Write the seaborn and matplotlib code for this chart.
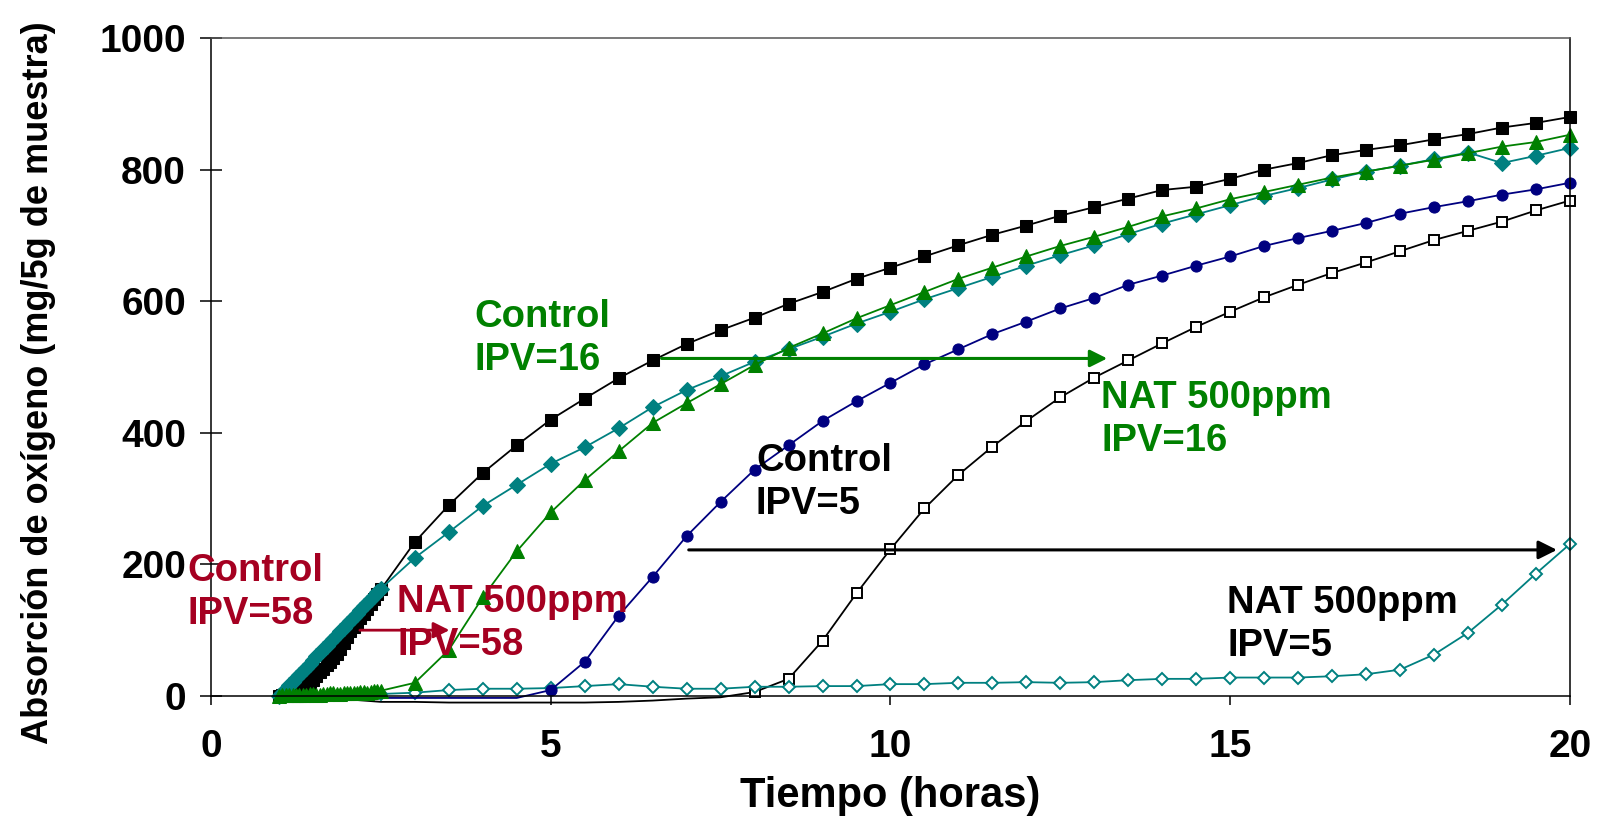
import numpy as np
import pandas as pd
import matplotlib
matplotlib.use('Agg')
import matplotlib.pyplot as plt
import seaborn as sns

# time grids (hours): dense readings at start, then every half hour
t_dense = np.round(np.arange(1.0, 2.51, 0.05), 2)
t_half = np.arange(3.0, 20.01, 0.5)
t_fast = np.concatenate([t_dense, t_half])
t_blue = np.arange(2.0, 20.01, 0.5)
t_open_sq = np.arange(2.0, 20.01, 0.5)
t_open_dm = np.arange(2.5, 20.01, 0.5)

# oxygen uptake (mg/5g sample)
black_sq = [0, 1, 2, 3, 5, 7, 9, 12, 16, 20, 25, 30, 36, 41, 47, 52, 57, 64, 72,
            81, 90, 98, 105, 111, 118, 125, 132, 140, 147, 155, 162,
            234, 290, 339, 381, 420, 452, 483, 510, 535, 556, 575, 596, 614, 634,
            651, 668, 685, 701, 715, 730, 743, 756, 769, 774, 786, 800, 810, 822,
            830, 837, 846, 854, 864, 871, 880]
teal_dm = [0, 5, 10, 16, 21, 27, 32, 38, 43, 49, 54, 60, 65, 71, 76, 82, 87, 92,
           98, 103, 109, 114, 120, 125, 131, 136, 142, 147, 152, 158, 163,
           210, 249, 289, 321, 353, 378, 407, 439, 465, 486, 508, 527, 546, 566,
           584, 603, 620, 637, 654, 670, 685, 702, 718, 732, 746, 760, 772, 785,
           797, 806, 816, 826, 810, 821, 833]
green_tri = [0, 1, 1, 2, 2, 1, 1, 2, 2, 3, 3, 2, 2, 3, 3, 4, 4, 3, 3, 4, 5, 5,
             4, 5, 6, 6, 5, 6, 7, 7, 8,
             20, 70, 150, 220, 279, 328, 372, 415, 445, 474, 503, 529, 551, 574,
             594, 614, 634, 651, 668, 684, 698, 713, 729, 741, 755, 766, 777, 788,
             797, 806, 815, 825, 835, 842, 853]
blue_circ = [-3, -3, -3, -3, -3, -3, 9, 52, 122, 181, 243, 295, 344, 381, 418,
             448, 476, 504, 527, 550, 569, 589, 605, 625, 639, 654, 668, 684, 696,
             707, 719, 733, 743, 752, 762, 770, 780]
open_sq = [-5, -9, -9, -10, -10, -10, -10, -10, -9, -7, -4, -2, 6, 26, 84, 156,
           223, 285, 336, 379, 418, 454, 484, 510, 536, 561, 584, 606, 625, 643,
           659, 676, 693, 707, 721, 738, 753]
open_dm = [3, 5, 9, 11, 11, 12, 15, 18, 14, 11, 11, 14, 14, 15, 15, 18, 18, 20,
           20, 21, 20, 21, 24, 26, 26, 28, 28, 28, 30, 33, 40, 63, 96, 139, 186, 231]

x_ticks = [0, 5, 10, 15, 20]
y_ticks = [0, 200, 400, 600, 800, 1000]

sns.set_style('white')
plt.rcParams['font.family'] = ['Liberation Sans', 'DejaVu Sans']
plt.rcParams['font.weight'] = 'bold'
plt.rcParams['text.color'] = 'black'
plt.rcParams['axes.labelcolor'] = 'black'
plt.rcParams['xtick.color'] = 'black'
plt.rcParams['ytick.color'] = 'black'

GREEN = '#008000'
TEAL = '#008080'
NAVY = '#000080'
RED = '#A50021'

fig = plt.figure(figsize=(16.01, 8.16), dpi=100)
ax = fig.add_axes([0.1318, 0.1471, 0.8488, 0.8063])

common = dict(ax=ax, linewidth=1.3, clip_on=False, legend=False, sort=False)
sns.lineplot(x=t_open_sq, y=open_sq, color='black', marker='s', markersize=7,
             markerfacecolor='white', markeredgecolor='black', markeredgewidth=1.4,
             markevery=slice(12, None), **common)
sns.lineplot(x=t_open_dm, y=open_dm, color=TEAL, marker='D', markersize=6.5,
             markerfacecolor='white', markeredgecolor=TEAL, markeredgewidth=1.4,
             **common)
sns.lineplot(x=t_blue, y=blue_circ, color=NAVY, marker='o', markersize=8,
             markeredgecolor=NAVY, markevery=slice(6, None), **common)
sns.lineplot(x=t_fast, y=black_sq, color='black', marker='s', markersize=8.5,
             markeredgecolor='black', **common)
sns.lineplot(x=t_fast, y=teal_dm, color=TEAL, marker='D', markersize=8,
             markeredgecolor=TEAL, **common)
sns.lineplot(x=t_fast, y=green_tri, color=GREEN, marker='^', markersize=10,
             markeredgecolor=GREEN, **common)

ax.set_xlim(0, 20)
ax.set_ylim(0, 1000)
ax.set_xticks(x_ticks)
ax.set_yticks(y_ticks)
ax.tick_params(axis='y', direction='inout', length=16, width=1.1, pad=10,
               labelsize=28, left=True, colors='black')
ax.tick_params(axis='x', direction='out', length=6.5, width=1.1, pad=17,
               labelsize=28, bottom=True, colors='black')
for lab in ax.get_xticklabels() + ax.get_yticklabels():
    lab.set_fontweight('bold')
for side in ['left', 'right', 'top', 'bottom']:
    ax.spines[side].set_color('black')
    ax.spines[side].set_linewidth(1.1)
ax.spines['top'].set_color('#555555')

ax.set_xlabel('Tiempo (horas)', fontsize=30, fontweight='bold', color='black')
ax.set_ylabel('Absorción de oxígeno (mg/5g de muestra)', fontsize=26,
              fontweight='bold', color='black')
ax.xaxis.set_label_coords(0.5, -0.122)
ax.yaxis.set_label_coords(-0.114, 0.476)

# annotations
txt = dict(fontsize=27.5, fontweight='bold', ha='left', va='baseline', linespacing=1.25)
ax.text(3.88, 496, 'Control\nIPV=16', color=GREEN, **txt)
ax.text(13.1, 372, 'NAT 500ppm\nIPV=16', color=GREEN, **txt)
ax.text(8.02, 277, 'Control\nIPV=5', color='black', **txt)
ax.text(14.96, 60, 'NAT 500ppm\nIPV=5', color='black', **txt)
ax.text(-0.35, 110, 'Control\nIPV=58', color=RED, **txt)
ax.text(2.74, 62, 'NAT 500ppm\nIPV=58', color=RED, **txt)

ax.annotate('', xy=(13.23, 513), xytext=(6.59, 513),
            arrowprops=dict(arrowstyle='-|>', color=GREEN, lw=2.2, mutation_scale=26))
ax.annotate('', xy=(19.85, 222), xytext=(6.99, 222),
            arrowprops=dict(arrowstyle='-|>', color='black', lw=2.2, mutation_scale=28))
ax.annotate('', xy=(3.55, 100), xytext=(2.15, 100),
            arrowprops=dict(arrowstyle='-|>', color=RED, lw=2.0, mutation_scale=24))

fig.savefig('out.png', dpi=100)
